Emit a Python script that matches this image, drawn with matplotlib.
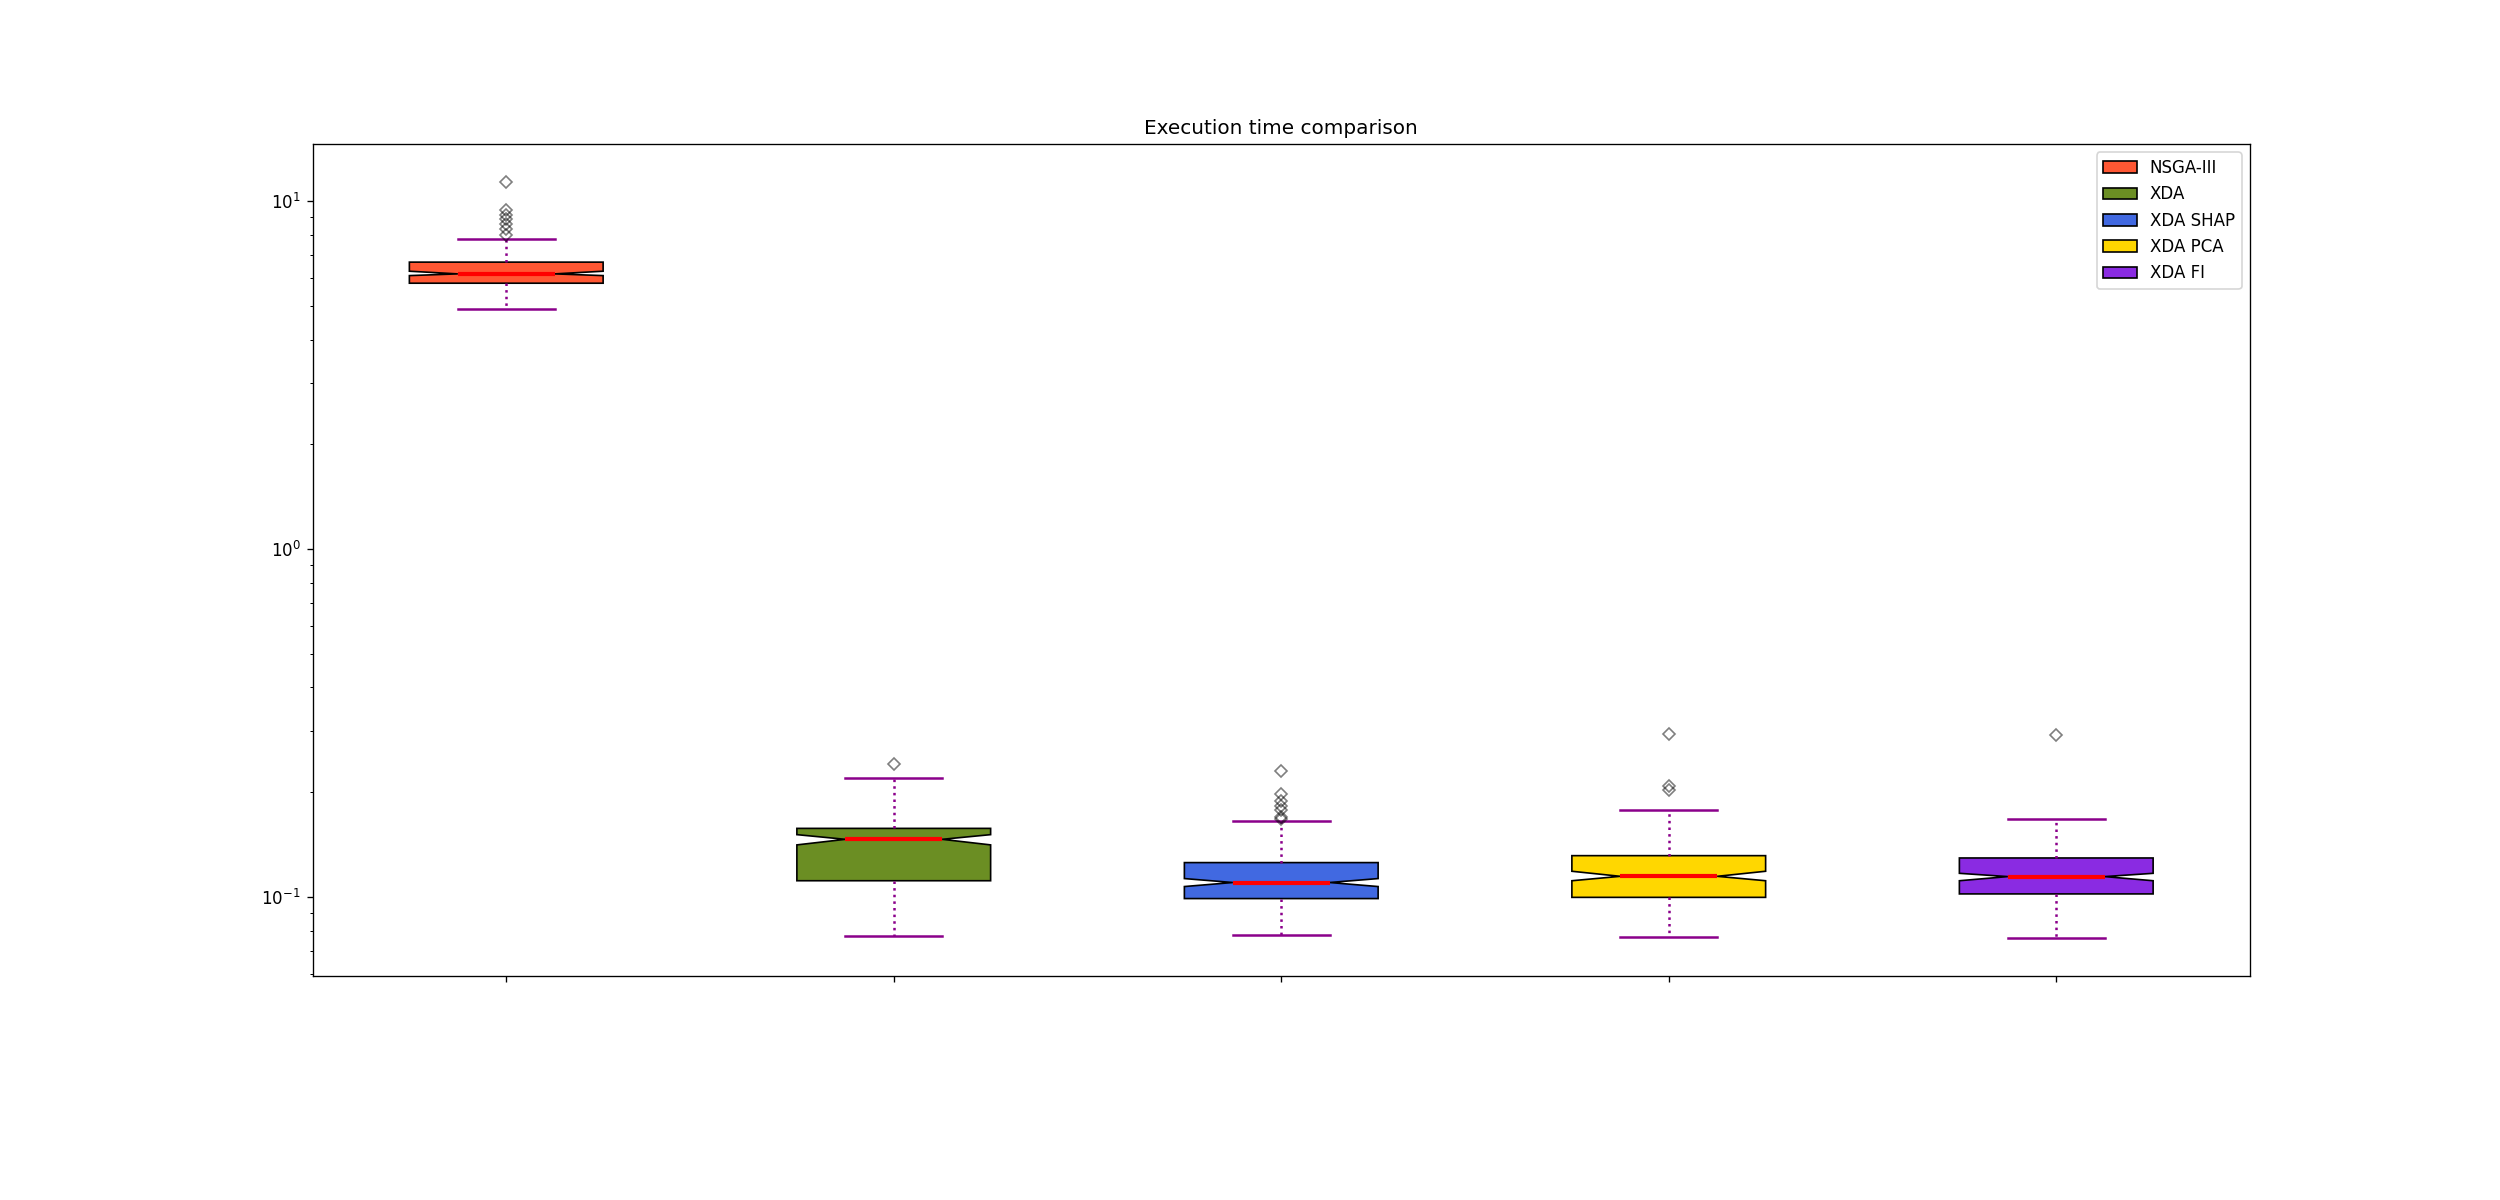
import matplotlib
matplotlib.use("Agg")
import matplotlib.pyplot as plt
from matplotlib.patches import Patch

# box statistics (seconds, log axis)
labels = ["NSGA-III", "XDA", "XDA SHAP", "XDA PCA", "XDA FI"]
colors = ["#FF5733", "#6B8E23", "#4169E1", "#FFD700", "#8A2BE2"]

med = [6.18, 0.1464, 0.1100, 0.1146, 0.1144]
q1 = [5.81, 0.1113, 0.0989, 0.0997, 0.1020]
q3 = [6.68, 0.1574, 0.1255, 0.1314, 0.1294]
ci_lo = [6.11, 0.1411, 0.1071, 0.1113, 0.1113]
ci_hi = [6.29, 0.1510, 0.1129, 0.1185, 0.1169]
whis_lo = [4.89, 0.0773, 0.0777, 0.0767, 0.0762]
whis_hi = [7.78, 0.2198, 0.1654, 0.1778, 0.1676]
fliers = [
    [11.34, 9.44, 9.13, 8.87, 8.61, 8.32, 7.99],
    [0.2411],
    [0.2301, 0.1977, 0.1891, 0.1830, 0.1774, 0.1698, 0.1676],
    [0.2940, 0.2088, 0.2024],
    [0.2920],
]


def main():
    stats = []
    for i, lab in enumerate(labels):
        stats.append(dict(label=lab, med=med[i], q1=q1[i], q3=q3[i],
                          cilo=ci_lo[i], cihi=ci_hi[i],
                          whislo=whis_lo[i], whishi=whis_hi[i],
                          fliers=fliers[i]))

    fig, ax = plt.subplots(figsize=(2500 / 120, 10))
    fig.subplots_adjust(left=0.125, right=0.9, top=0.88, bottom=0.187)

    bp = ax.bxp(stats, shownotches=True, patch_artist=True, widths=0.5,
                boxprops=dict(edgecolor="black", linewidth=1),
                medianprops=dict(color="red", linewidth=2.5),
                whiskerprops=dict(color="#8B008B", linestyle=":", linewidth=1.5),
                capprops=dict(color="#8B008B", linewidth=1.5),
                flierprops=dict(marker="D", markersize=5.5, markerfacecolor="none",
                                markeredgecolor="black", alpha=0.5))
    for patch, c in zip(bp["boxes"], colors):
        patch.set_facecolor(c)

    ax.set_yscale("log")
    ax.set_ylim(0.0594, 14.6)
    ax.set_xlim(0.5, 5.5)
    ax.set_xticks(range(1, len(labels) + 1))
    ax.set_xticklabels([""] * len(labels))
    ax.set_title("Execution time comparison")

    handles = [Patch(facecolor=c, edgecolor="black", label=l)
               for c, l in zip(colors, labels)]
    ax.legend(handles=handles, loc="upper right")

    fig.savefig("out.png", dpi=120)


if __name__ == "__main__":
    main()
